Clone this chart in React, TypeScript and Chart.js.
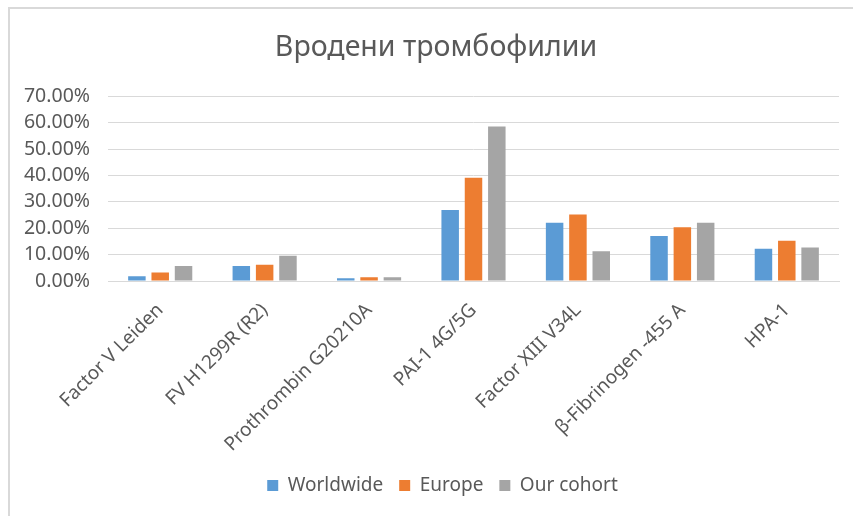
import React, { useEffect, useRef } from "react";
import { Chart, registerables } from "chart.js";

Chart.register(...registerables);

const categories = [
  "Factor V Leiden",
  "FV H1299R (R2)",
  "Prothrombin G20210A",
  "PAI-1 4G/5G",
  "Factor XIII V34L",
  "β-Fibrinogen -455 A",
  "HPA-1",
];
const worldwide = [1.8, 5.7, 1.0, 26.9, 22.1, 17.0, 12.2];
const europe = [3.2, 6.2, 1.4, 39.1, 25.2, 20.4, 15.2];
const ourCohort = [5.7, 9.6, 1.4, 58.5, 11.3, 22.1, 12.7];
const seriesNames = ["Worldwide", "Europe", "Our cohort"];
const titleText = "Вродени тромбофилии";

const FONT = "'Noto Sans', sans-serif";
const TEXT = "#595959";

const shiftBlocks = {
  id: "shiftBlocks",
  afterLayout(c: any) {
    if (c.titleBlock) {
      c.titleBlock.left = 33;
      c.titleBlock.right = 839;
    }
    if (c.legend) {
      const w = c.legend.right - c.legend.left;
      c.legend.left = 33;
      c.legend.right = 33 + w;
    }
  },
};

export default function App() {
  const ref = useRef<HTMLCanvasElement | null>(null);
  useEffect(() => {
    if (!ref.current) return;
    const chart = new Chart(ref.current, {
      type: "bar",
      data: {
        labels: categories,
        datasets: [
          { label: seriesNames[0], data: worldwide, backgroundColor: "#5B9BD5" },
          { label: seriesNames[1], data: europe, backgroundColor: "#ED7D31" },
          { label: seriesNames[2], data: ourCohort, backgroundColor: "#A5A5A5" },
        ],
      },
      plugins: [shiftBlocks],
      options: {
        animation: false,
        responsive: false,
        maintainAspectRatio: false,
        datasets: { bar: { categoryPercentage: 0.67, barPercentage: 0.75 } },
        layout: { padding: { left: 20, right: 14, top: 0, bottom: 11 } },
        plugins: {
          title: {
            display: true,
            text: titleText,
            color: TEXT,
            font: { family: FONT, size: 28.5, weight: "normal", lineHeight: 1.2 },
            padding: { top: 31, bottom: 31 },
          },
          legend: {
            position: "bottom",
            labels: {
              color: TEXT,
              font: { family: FONT, size: 19 },
              boxWidth: 11,
              boxHeight: 11,
              padding: 16,
            },
          },
          tooltip: { enabled: false },
        },
        scales: {
          x: {
            grid: { display: false, drawTicks: false },
            border: { display: true, color: "#D9D9D9", width: 1 },
            ticks: {
              color: TEXT,
              font: { family: FONT, size: 19 },
              minRotation: 45,
              maxRotation: 45,
              padding: 18,
              autoSkip: false,
            },
            afterFit: (s: any) => {
              s.height = 179;
            },
          },
          y: {
            min: 0,
            max: 70,
            grid: { color: "#D9D9D9", drawTicks: false },
            border: { display: false },
            ticks: {
              stepSize: 10,
              color: TEXT,
              font: { family: FONT, size: 19.5 },
              padding: 18,
              callback: (v: any) => Number(v).toFixed(2) + "%",
            },
            afterFit: (s: any) => {
              s.width = 88;
            },
          },
        },
      },
    });
    return () => chart.destroy();
  }, []);
  return (
    <div style={{ position: "fixed", left: 0, top: 0, width: 853, height: 516, background: "#fff" }}>
      <div
        style={{
          position: "absolute",
          left: 8,
          top: 7,
          right: 0,
          bottom: 0,
          borderTop: "2px solid #D9D9D9",
          borderLeft: "2px solid #D9D9D9",
        }}
      />
      <canvas ref={ref} width={853} height={516} style={{ position: "absolute", left: 0, top: 0 }} />
    </div>
  );
}
